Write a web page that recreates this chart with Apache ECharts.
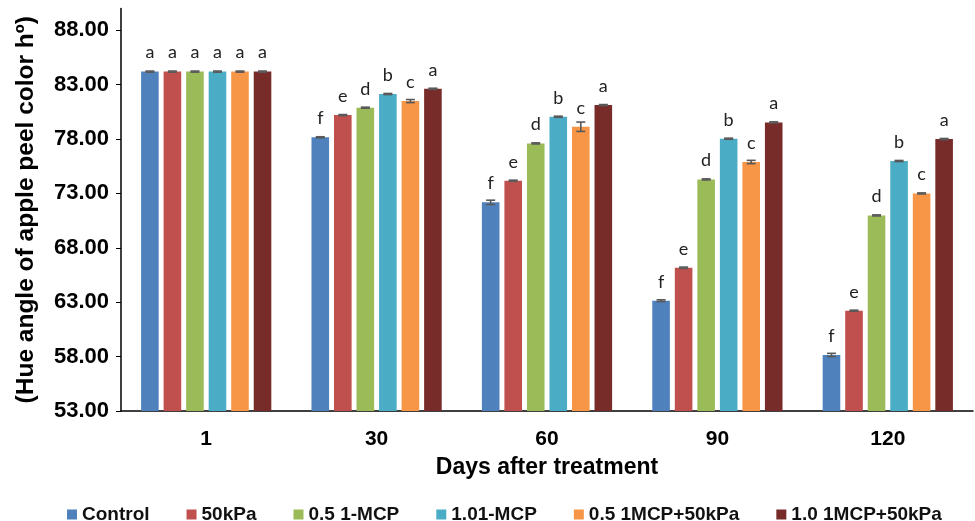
<!DOCTYPE html>
<html>
<head>
<meta charset="utf-8">
<script src="https://cdn.jsdelivr.net/npm/echarts@6/dist/echarts.min.js"></script>
<style>
  html, body { margin: 0; padding: 0; background: #fff; }
  #main { width: 975px; height: 521px; }
</style>
</head>
<body>
<div id="main"></div>
<script>
// days after treatment
var days = ['1', '30', '60', '90', '120'];
var yTicks = [53, 58, 63, 68, 73, 78, 83, 88];

var names = ['Control', '50kPa', '0.5 1-MCP', '1.01-MCP', '0.5 1MCP+50kPa', '1.0 1MCP+50kPa'];
var colors = ['#4F81BD', '#C0504D', '#9BBB59', '#4BACC6', '#F79646', '#772C2A'];

// hue angle means
var control   = [84.2, 78.16, 72.18, 63.14, 58.15];
var kpa50     = [84.2, 80.2, 74.17, 66.17, 62.22];
var mcp05     = [84.2, 80.88, 77.6, 74.29, 70.98];
var mcp10     = [84.2, 82.14, 80.05, 78.03, 75.98];
var mcp05kpa  = [84.2, 81.49, 79.13, 75.89, 73.0];
var mcp10kpa  = [84.2, 82.62, 81.12, 79.53, 78.0];

// standard errors
var controlErr  = [0.05, 0.05, 0.2, 0.08, 0.15];
var kpa50Err    = [0.05, 0.05, 0.05, 0.06, 0.05];
var mcp05Err    = [0.05, 0.05, 0.05, 0.05, 0.05];
var mcp10Err    = [0.05, 0.05, 0.05, 0.05, 0.05];
var mcp05kpaErr = [0.05, 0.14, 0.43, 0.15, 0.05];
var mcp10kpaErr = [0.05, 0.05, 0.05, 0.05, 0.05];

// significance letters
var controlLet  = ['a', 'f', 'f', 'f', 'f'];
var kpa50Let    = ['a', 'e', 'e', 'e', 'e'];
var mcp05Let    = ['a', 'd', 'd', 'd', 'd'];
var mcp10Let    = ['a', 'b', 'b', 'b', 'b'];
var mcp05kpaLet = ['a', 'c', 'c', 'c', 'c'];
var mcp10kpaLet = ['a', 'a', 'a', 'a', 'a'];

var values = [control, kpa50, mcp05, mcp10, mcp05kpa, mcp10kpa];
var errors = [controlErr, kpa50Err, mcp05Err, mcp10Err, mcp05kpaErr, mcp10kpaErr];
var letters = [controlLet, kpa50Let, mcp05Let, mcp10Let, mcp05kpaLet, mcp10kpaLet];

var BAR_W = 17.6;
var GAP = 0.28;

var series = [];
names.forEach(function (n, i) {
  series.push({
    name: n,
    type: 'bar',
    barWidth: BAR_W,
    barGap: (GAP * 100) + '%',
    data: values[i],
    itemStyle: { color: colors[i] },
    label: {
      show: true,
      position: 'top',
      distance: 10,
      fontFamily: 'Lato',
      fontSize: 18,
      color: '#222',
      formatter: function (p) { return letters[i][p.dataIndex]; }
    }
  });
});

// error bars
var errData = [];
values.forEach(function (arr, s) {
  arr.forEach(function (v, c) { errData.push([c, v, errors[s][c], s]); });
});
series.push({
  type: 'custom',
  z: 10,
  data: errData,
  encode: { x: 0, y: 1 },
  renderItem: function (params, api) {
    var c = api.value(0), v = api.value(1), e = api.value(2), s = api.value(3);
    var step = BAR_W * (1 + GAP);
    var center = api.coord([c, v]);
    var x = center[0] + (s - 2.5) * step;
    var hi = api.coord([c, v + e])[1];
    var lo = api.coord([c, v - e])[1];
    var hw = 4.5;
    var st = { stroke: '#595959', lineWidth: 1.6 };
    return {
      type: 'group',
      children: [
        { type: 'line', shape: { x1: x, y1: hi, x2: x, y2: lo }, style: st },
        { type: 'line', shape: { x1: x - hw, y1: hi, x2: x + hw, y2: hi }, style: st },
        { type: 'line', shape: { x1: x - hw, y1: lo, x2: x + hw, y2: lo }, style: st }
      ]
    };
  }
});

var option = {
  backgroundColor: '#FFFFFF',
  animation: false,
  grid: { left: 121, right: 2, top: 8.5, bottom: 110, containLabel: false },
  legend: {
    data: names,
    top: 500,
    left: 62,
    itemWidth: 10,
    itemHeight: 10,
    itemGap: 37,
    icon: 'rect',
    textStyle: { fontFamily: 'Liberation Sans', fontWeight: 'bold', fontSize: 19, color: '#111' }
  },
  xAxis: {
    type: 'category',
    data: days,
    name: 'Days after treatment',
    nameLocation: 'middle',
    nameGap: 45,
    nameTextStyle: { fontFamily: 'Liberation Sans', fontWeight: 'bold', fontSize: 23, color: '#000' },
    axisLine: { lineStyle: { color: '#000', width: 1.5 } },
    axisTick: { alignWithLabel: true, length: 5, lineStyle: { color: '#000' } },
    axisLabel: { margin: 18, fontFamily: 'Liberation Sans', fontWeight: 'bold', fontSize: 21, color: '#000' }
  },
  yAxis: {
    type: 'value',
    min: 53,
    max: 90,
    name: '(Hue angle of apple peel color hº)',
    nameLocation: 'middle',
    nameGap: 82,
    nameTextStyle: { fontFamily: 'Liberation Sans', fontWeight: 'bold', fontSize: 24.5, color: '#000' },
    axisLine: { show: true, lineStyle: { color: '#000', width: 1.5 } },
    axisTick: { show: true, length: 5, customValues: yTicks, lineStyle: { color: '#000' } },
    axisLabel: {
      customValues: yTicks,
      margin: 12,
      fontFamily: 'Liberation Sans',
      fontWeight: 'bold',
      fontSize: 22,
      color: '#000',
      formatter: function (v) { return v.toFixed(2); }
    },
    splitLine: { show: false }
  },
  series: series
};

var chart = echarts.init(document.getElementById('main'));
chart.setOption(option);
</script>
</body>
</html>
